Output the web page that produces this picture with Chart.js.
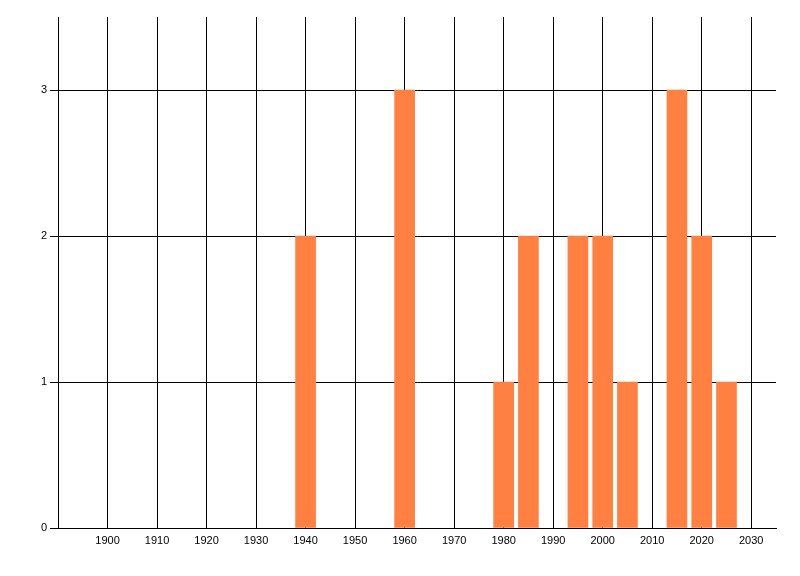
<!DOCTYPE html>
<html>
<head>
<meta charset="utf-8">
<script src="https://cdn.jsdelivr.net/npm/chart.js@4"></script>
<style>
  html, body { margin: 0; padding: 0; background: #fff; }
  #wrap { width: 800px; height: 576px; }
</style>
</head>
<body>
<div id="wrap"><canvas id="chart" width="800" height="576"></canvas></div>
<script>
// years and counts
const years = [1940, 1960, 1980, 1985, 1995, 2000, 2005, 2015, 2020, 2025];
const counts = [2, 3, 1, 2, 2, 2, 1, 3, 2, 1];
const xTicks = [1890, 1900, 1910, 1920, 1930, 1940, 1950, 1960, 1970, 1980, 1990, 2000, 2010, 2020, 2030];
const yTicks = [0, 1, 2, 3];

const points = years.map((y, i) => ({ x: y, y: counts[i] }));

const ctx = document.getElementById('chart');

new Chart(ctx, {
  type: 'bar',
  data: {
    datasets: [{
      data: points,
      backgroundColor: '#ff8040',
      borderWidth: 0,
      barThickness: 20
    }]
  },
  options: {
    responsive: false,
    animation: false,
    layout: { padding: { top: 17, right: 24, left: 0, bottom: 0 } },
    plugins: { legend: { display: false }, tooltip: { enabled: false } },
    scales: {
      x: {
        type: 'linear',
        min: 1890,
        max: 2035,
        offset: false,
        afterBuildTicks: s => { s.ticks = xTicks.map(v => ({ value: v })); },
        afterFit: s => { s.height = 48; },
        ticks: {
          autoSkip: false,
          maxRotation: 0,
          padding: 6,
          color: '#000',
          font: { family: 'Liberation Sans', size: 11 },
          callback: v => (v === 1890 ? '' : String(v))
        },
        grid: { color: '#000', lineWidth: 1, drawTicks: false, offset: false },
        border: { color: '#000', width: 1 }
      },
      y: {
        min: 0,
        max: 3.5,
        afterBuildTicks: s => { s.ticks = yTicks.map(v => ({ value: v })); },
        afterFit: s => { s.width = 58; },
        ticks: {
          padding: 3,
          color: '#000',
          font: { family: 'Liberation Sans', size: 11 }
        },
        grid: { color: '#000', lineWidth: 1, drawTicks: true, tickLength: 8 },
        border: { color: '#000', width: 1 }
      }
    }
  }
});
</script>
</body>
</html>
